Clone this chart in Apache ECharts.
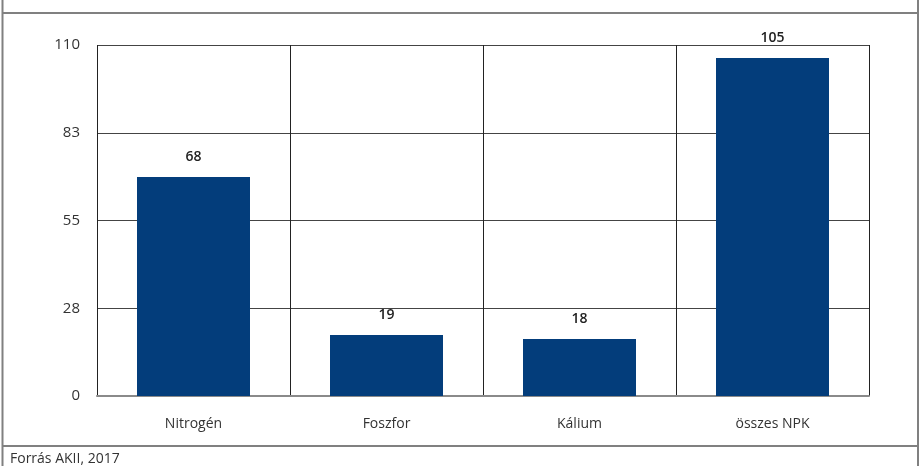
<!DOCTYPE html>
<html>
<head>
<meta charset="utf-8">
<script src="https://cdn.jsdelivr.net/npm/echarts@6/dist/echarts.min.js"></script>
<style>
html,body{margin:0;padding:0;background:#fff;}
#chart{width:920px;height:466px;}
</style>
</head>
<body>
<div id="chart"></div>
<script>
const categories = ['Nitrogén', 'Foszfor', 'Kálium', 'összes NPK'];
const values = [68.6, 19.1, 17.9, 105.9];
const valueLabels = ['68', '19', '18', '105'];
const yTickLabels = ['0', '28', '55', '83', '110'];
const sourceText = 'Forrás AKII, 2017';

const FONT = "'Open Sans', sans-serif";
const chart = echarts.init(document.getElementById('chart'));
chart.setOption({
  animation: false,
  backgroundColor: '#fff',
  grid: { left: 97, right: 51, top: 45, bottom: 70, containLabel: false },
  xAxis: {
    type: 'category',
    data: categories,
    boundaryGap: true,
    axisLine: { show: true, lineStyle: { color: '#8a8a8a', width: 2 } },
    axisTick: { show: false },
    axisLabel: { color: '#333', fontSize: 14, fontFamily: FONT, margin: 21 },
    splitLine: { show: true, lineStyle: { color: '#222', width: 1 } },
    z: 3
  },
  yAxis: {
    type: 'value',
    min: 0, max: 110, interval: 27.5,
    axisLine: { show: false },
    axisTick: { show: false },
    axisLabel: {
      color: '#333', fontSize: 15, fontFamily: FONT, margin: 17,
      formatter: function (v) { return yTickLabels[Math.round(v / 27.5)]; }
    },
    splitLine: { show: true, lineStyle: { color: '#444', width: 1 } }
  },
  series: [{
    type: 'bar',
    data: values,
    barWidth: 113,
    itemStyle: { color: '#033d7b' },
    label: {
      show: true, position: 'top', distance: 13,
      color: '#222', fontWeight: 600, fontSize: 14, fontFamily: FONT,
      formatter: function (p) { return valueLabels[p.dataIndex]; }
    },
    z: 4
  }],
  graphic: [
    { type: 'line', shape: { x1: 2, y1: 13, x2: 918, y2: 13 }, style: { stroke: '#808080', lineWidth: 2 } },
    { type: 'line', shape: { x1: 2, y1: 446, x2: 918, y2: 446 }, style: { stroke: '#808080', lineWidth: 2 } },
    { type: 'line', shape: { x1: 2.5, y1: 0, x2: 2.5, y2: 466 }, style: { stroke: '#808080', lineWidth: 2 } },
    { type: 'line', shape: { x1: 918, y1: 0, x2: 918, y2: 466 }, style: { stroke: '#808080', lineWidth: 2 } },
    { type: 'text', left: 10, top: 452, style: { text: sourceText, fill: '#333', font: "14px 'Open Sans', sans-serif" } }
  ]
});
</script>
</body>
</html>
